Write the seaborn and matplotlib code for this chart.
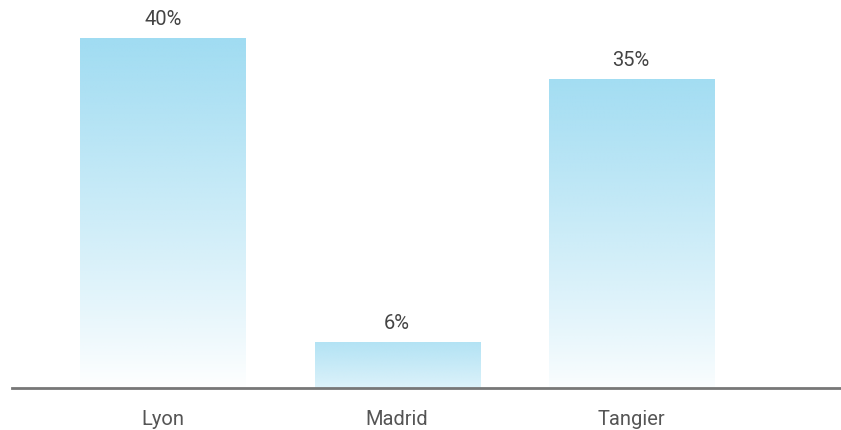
import numpy as np
import pandas as pd
import seaborn as sns
import matplotlib.pyplot as plt
from matplotlib.colors import to_rgb

cities = ["Lyon", "Madrid", "Tangier"]
shares = [40, 5.2, 35.3]
share_labels = ["40%", "6%", "35%"]

TOP_COLOR = "#a0dcf2"

sns.set_theme(style="white")
plt.rcParams["font.family"] = ["Roboto", "DejaVu Sans"]

df = pd.DataFrame({"city": cities, "share": shares})

fig = plt.figure(figsize=(8.41, 4.30), dpi=100)
ax = fig.add_axes([12 / 841, 42 / 430, 829 / 841, 388 / 430])

sns.barplot(data=df, x="city", y="share", color=TOP_COLOR, width=0.705,
            saturation=1, ax=ax)

# vertical fade to white on each bar
rgb = np.array(to_rgb(TOP_COLOR))
hmax = max(shares)
for patch, h, lab in zip(ax.patches, shares, share_labels):
    x0, w = patch.get_x(), patch.get_width()
    a_top = 1 - 0.23 * (1 - h / hmax)
    a_bot = 0.4 * (1 - h / hmax)
    frac = np.linspace(1, 0, 256)[:, None]
    alpha = a_bot + (a_top - a_bot) * frac ** 0.9
    img = np.zeros((256, 1, 4))
    img[..., :3] = rgb
    img[..., 3] = alpha
    patch.set_facecolor("none")
    patch.set_edgecolor("none")
    ax.imshow(img, extent=[x0, x0 + w, 0, h], aspect="auto", zorder=2,
              interpolation="bilinear")
    ax.annotate(lab, (x0 + w / 2, h), xytext=(0, 6.5), textcoords="offset points",
                ha="center", va="bottom", fontsize=14.5, color="#444444")

ax.set_xlim(-0.645, 2.897)
ax.set_ylim(0, 40 * 388 / 350)
ax.set_xlabel("")
ax.set_ylabel("")
ax.set_yticks([])
for s in ["top", "left", "right"]:
    ax.spines[s].set_visible(False)
ax.spines["bottom"].set_color("#777777")
ax.spines["bottom"].set_linewidth(2)
ax.spines["bottom"].set_zorder(5)
ax.tick_params(axis="x", length=0, pad=16, labelsize=14.5, labelcolor="#555555")

fig.savefig("out.png", dpi=100)
